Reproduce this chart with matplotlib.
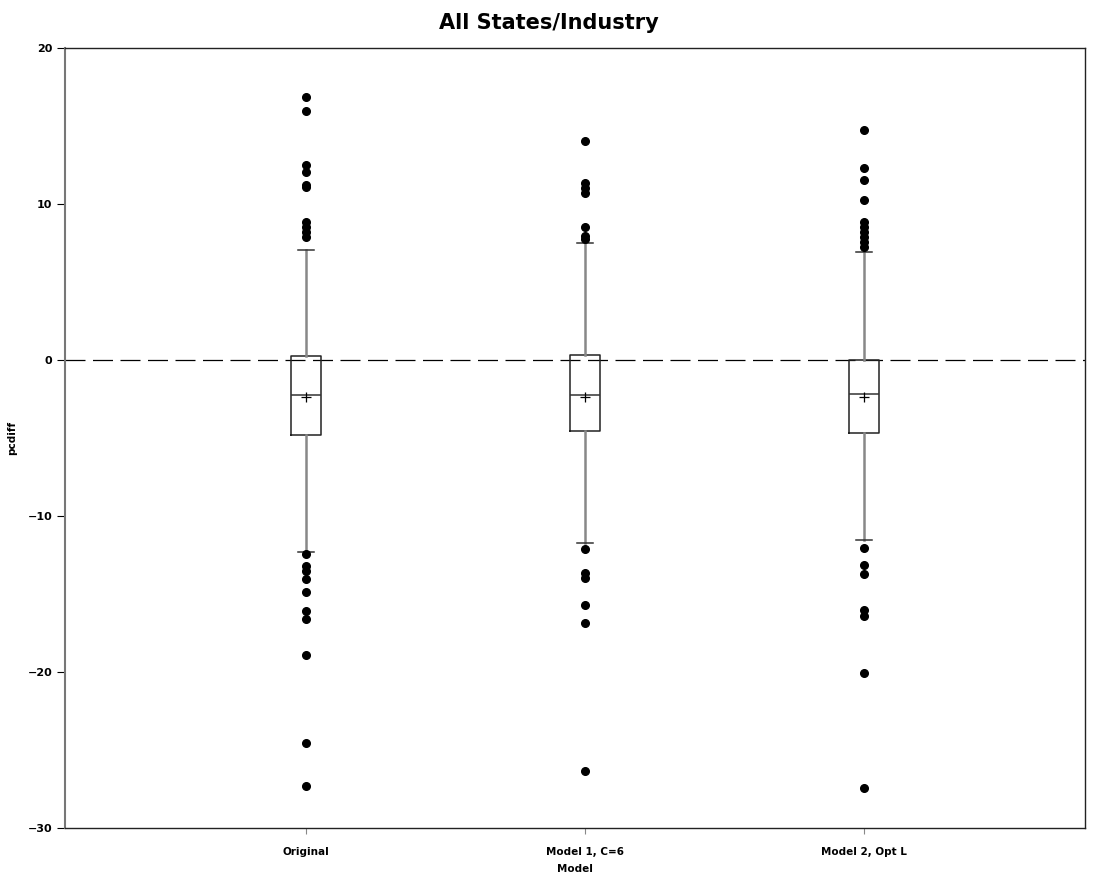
import matplotlib
matplotlib.use("Agg")
import matplotlib.pyplot as plt

categories = ["Original", "Model 1, C=6", "Model 2, Opt L"]
q1 = [-4.81, -4.57, -4.70]
q3 = [0.26, 0.32, 0.02]
medians = [-2.24, -2.27, -2.16]
means = [-2.39, -2.35, -2.35]
whisker_low = [-12.29, -11.71, -11.56]
whisker_high = [7.07, 7.48, 6.90]
outliers_original = [16.84, 15.98, 12.50, 12.07, 11.20, 11.07, 8.87, 8.55, 8.23, 7.91,
                     -12.46, -13.18, -13.50, -14.04, -14.85, -16.09, -16.60, -18.91, -24.53, -27.31]
outliers_model1 = [14.02, 11.32, 11.00, 10.73, 8.55, 7.95, 7.74,
                   -12.12, -13.68, -14.00, -15.73, -16.88, -26.32]
outliers_model2 = [14.74, 12.29, 11.52, 10.28, 8.87, 8.55, 8.23, 7.91, 7.58, 7.26,
                   -12.07, -13.14, -13.74, -16.03, -16.41, -20.08, -27.42]
yticks = [-30, -20, -10, 0, 10, 20]

fliers = [outliers_original, outliers_model1, outliers_model2]
stats = []
for i, c in enumerate(categories):
    stats.append(dict(label=c, q1=q1[i], q3=q3[i], med=medians[i], mean=means[i],
                      whislo=whisker_low[i], whishi=whisker_high[i], fliers=fliers[i]))

fig = plt.figure(figsize=(10.97, 8.8), dpi=100)
ax = fig.add_axes([65/1097, 1-828/880, (1085-65)/1097, (828-48)/880])

positions = [1, 2, 3]
ax.axhline(0, color="black", lw=0.9, ls=(0, (16, 6)), zorder=1)
ax.bxp(stats, positions=positions, widths=0.107, showmeans=True, showfliers=True,
       boxprops=dict(color="#222222", lw=1.1),
       medianprops=dict(color="#333333", lw=1.1),
       whiskerprops=dict(color="#888888", lw=1.8),
       capprops=dict(color="#333333", lw=1.1),
       capwidths=0.055,
       meanprops=dict(marker="+", markeredgecolor="black", markersize=7, markeredgewidth=0.9),
       flierprops=dict(marker="o", markerfacecolor="black", markeredgecolor="black", markersize=5.5),
       manage_ticks=False, zorder=3)

ax.set_xlim(0.136, 3.792)
ax.set_ylim(-30, 20)
ax.set_yticks(yticks)
ax.set_yticklabels([str(t).replace("-", "\u2212") for t in yticks], fontsize=8, fontweight="bold")
ax.set_xticks(positions)
ax.set_xticklabels(categories, fontsize=7.5, fontweight="bold")
ax.tick_params(axis="x", length=4, color="#888888", pad=10)
ax.tick_params(axis="y", length=6, color="black", pad=3)
ax.set_xlabel("Model", fontsize=7.5, fontweight="bold", labelpad=5)
ax.set_ylabel("pcdiff", fontsize=7.5, fontweight="bold", labelpad=8)
for s in ax.spines.values():
    s.set_linewidth(1.0)
    s.set_color("#222222")
ax.spines["left"].set_color("#777777")
ax.spines["left"].set_linewidth(1.5)

fig.suptitle("All States/Industry", fontsize=15, fontweight="bold", y=0.985)
fig.savefig("out.png", dpi=100, facecolor="white")
